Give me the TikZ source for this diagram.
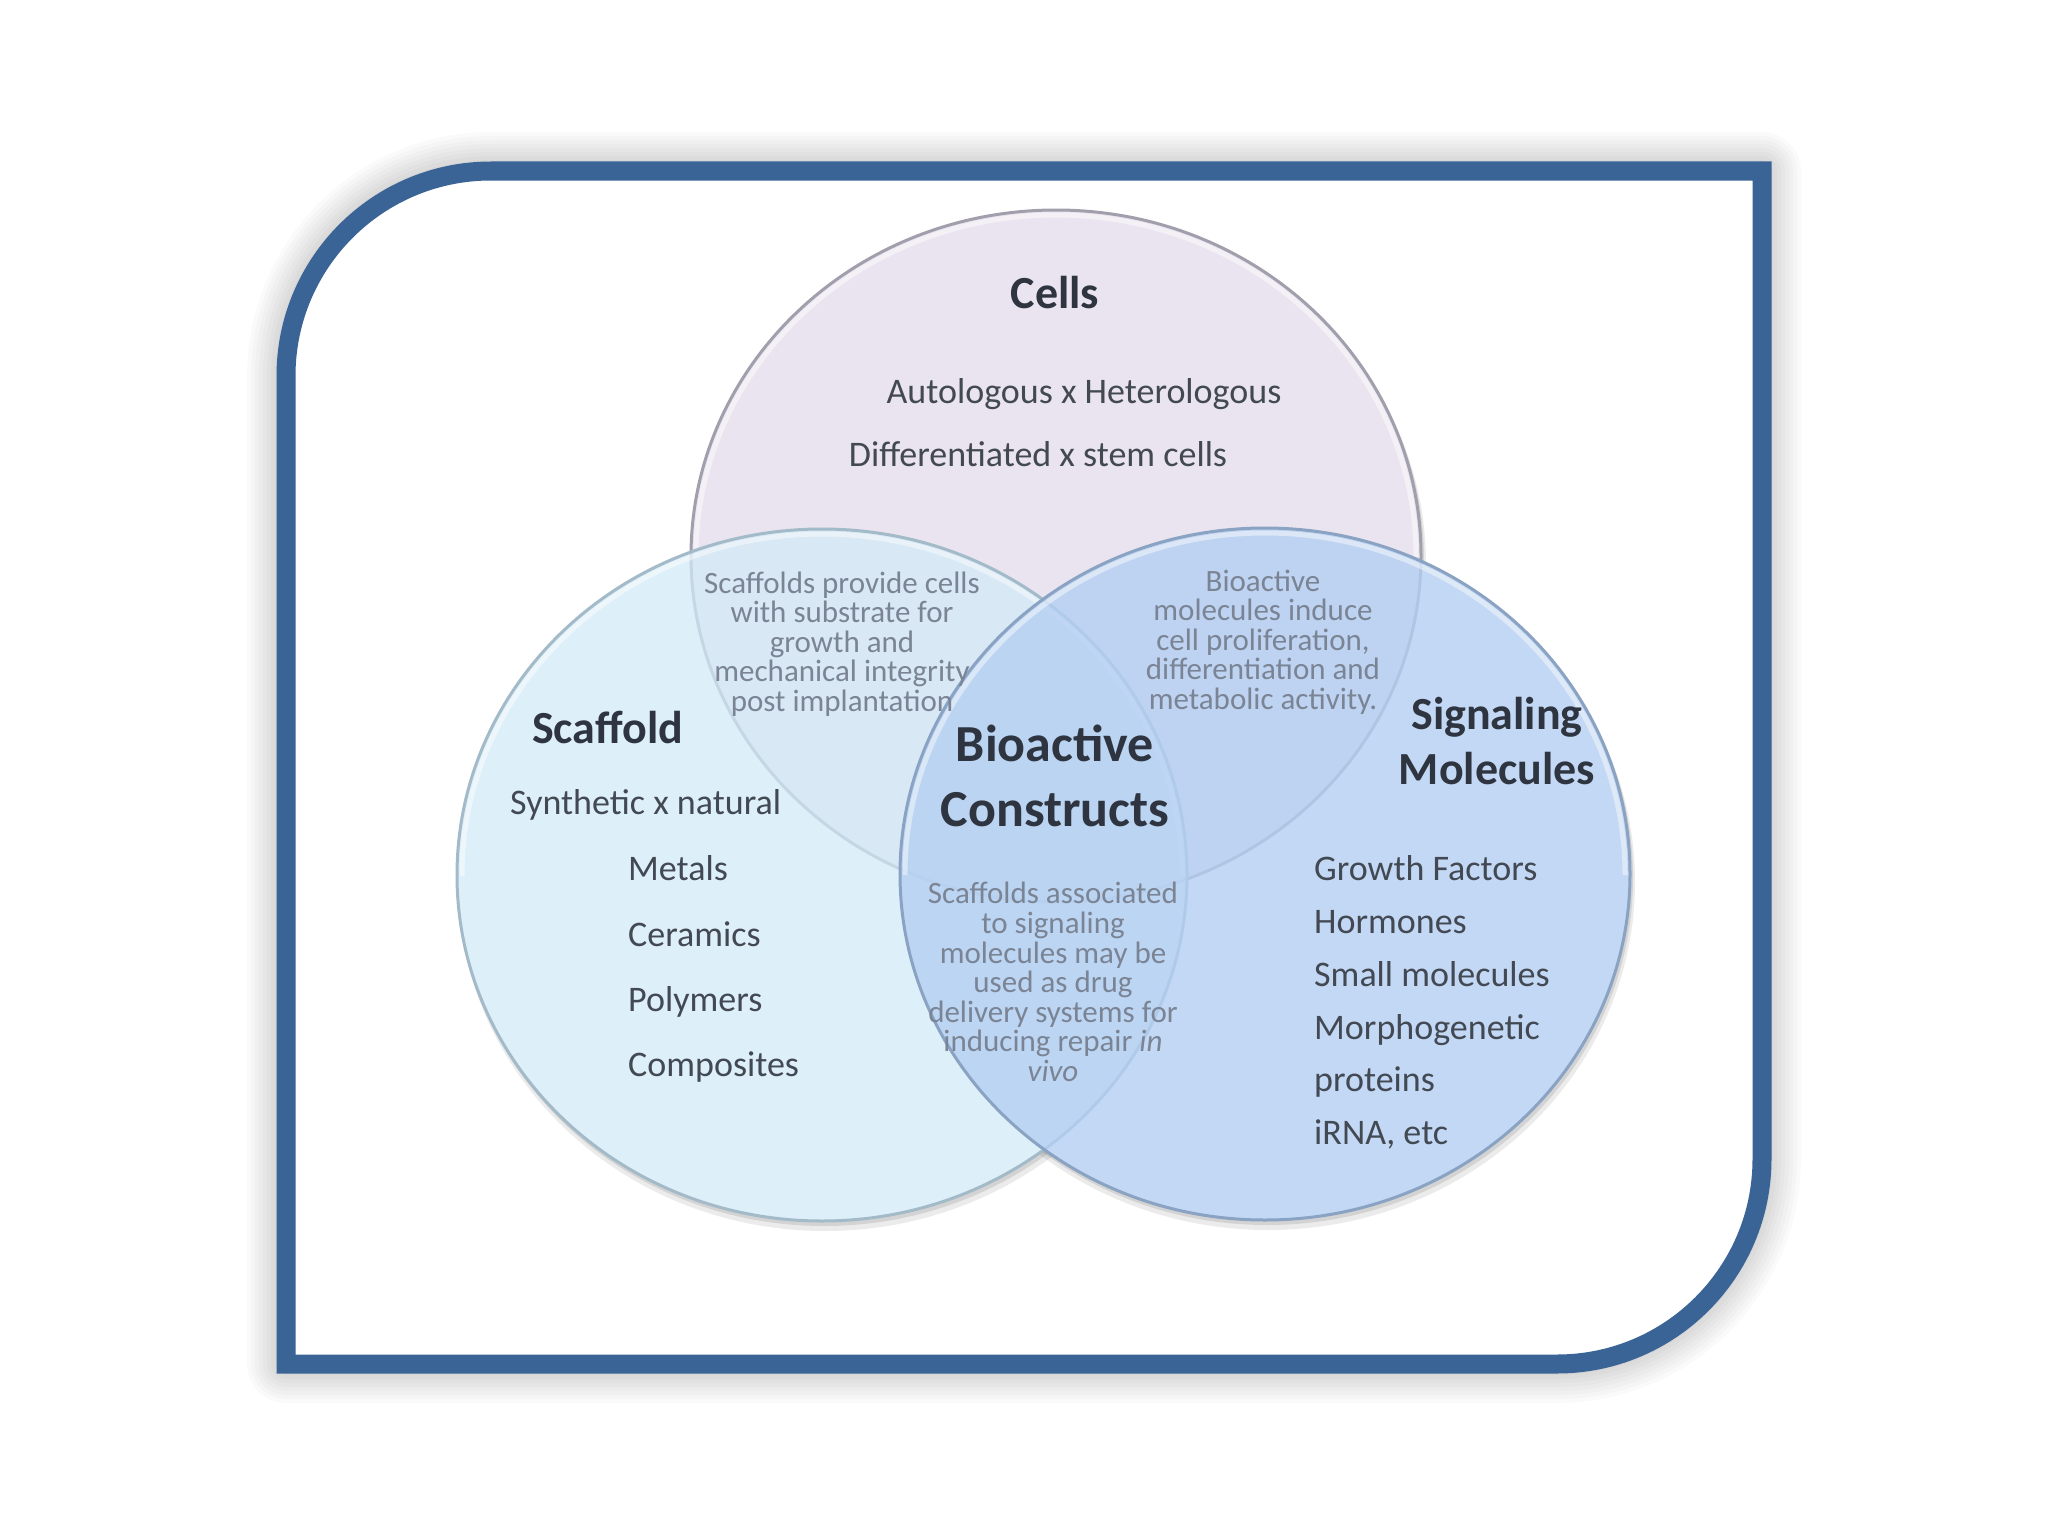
\documentclass[tikz,border=0pt]{standalone}
\usepackage{fontspec}
\setmainfont{Carlito}
\definecolor{frameblue}{HTML}{3A6496}
\definecolor{cellsfill}{HTML}{EAE4F0}
\definecolor{scafill}{HTML}{D2EAF7}
\definecolor{sigfill}{HTML}{B4CFF2}
\definecolor{cellsline}{HTML}{A29FAD}
\definecolor{scaline}{HTML}{A3BAC8}
\definecolor{sigline}{HTML}{8AA3C3}
\definecolor{titlecol}{HTML}{2E3540}
\definecolor{itemcol}{HTML}{434953}
\definecolor{smallcol}{HTML}{7A8494}
\begin{document}
\begin{tikzpicture}[x=1pt,y=-1pt,
  title/.style={font=\fontsize{46}{50}\selectfont\bfseries, text=titlecol, inner sep=0pt},
  bigtitle/.style={font=\fontsize{52}{65}\selectfont\bfseries, text=titlecol, inner sep=0pt, align=center},
  item/.style={font=\fontsize{36}{40}\selectfont, text=itemcol, inner sep=0pt},
  small/.style={font=\fontsize{31}{29.6}\selectfont, text=smallcol, align=center, inner sep=0pt},
  framepen/.style={draw=frameblue, line width=19pt},
  glow/.style={draw=white, line width=5pt, opacity=0.45},
]
\useasboundingbox (0,0) rectangle (2048,1536);
\fill[white] (0,0) rectangle (2048,1536);
% soft shadow around the frame, following its shape
\foreach \ww in {22,30,...,78} {
  \draw[black, opacity=0.02, line width=\ww pt, line join=round]
    (286,376) arc[start angle=180,end angle=270,radius=205] -- (1762,171) -- (1762,1159)
    arc[start angle=0,end angle=90,radius=205] -- (286,1364) -- cycle;
}
% frame interior
\fill[white] (286,376) arc[start angle=180,end angle=270,radius=205] -- (1762,171) -- (1762,1159)
  arc[start angle=0,end angle=90,radius=205] -- (286,1364) -- cycle;

% circle shadows
\foreach \cx/\cy in {1056/556, 822/875, 1265/874} {
  \fill[black, opacity=0.08] (\cx+3,\cy+8) ellipse [x radius=367, y radius=348];
  \fill[black, opacity=0.10] (\cx+2,\cy+4) ellipse [x radius=366, y radius=347];
}
\foreach \cx/\cy in {1056/556, 822/875, 1265/874} {
  \fill[white] (\cx,\cy) ellipse [x radius=365, y radius=346];
}
% circles
\filldraw[fill=cellsfill, draw=cellsline, line width=3pt] (1056,556) ellipse [x radius=365, y radius=346];
\begin{scope}
  \clip (656,150) rectangle (1456,556);
  \draw[glow] (1056,556) ellipse [x radius=360, y radius=341];
\end{scope}
\filldraw[fill=scafill, fill opacity=0.75, draw=scaline, line width=3pt] (822,875) ellipse [x radius=365, y radius=346];
\begin{scope}
  \clip (422,470) rectangle (1222,875);
  \draw[glow] (822,875) ellipse [x radius=360, y radius=341];
\end{scope}
\filldraw[fill=sigfill, fill opacity=0.8, draw=sigline, line width=3pt] (1265,874) ellipse [x radius=365, y radius=346];
\begin{scope}
  \clip (865,470) rectangle (1665,874);
  \draw[glow] (1265,874) ellipse [x radius=360, y radius=341];
\end{scope}

% frame
\draw[framepen] (286,376) arc[start angle=180,end angle=270,radius=205] -- (1762,171) -- (1762,1159)
  arc[start angle=0,end angle=90,radius=205] -- (286,1364) -- cycle;

% Cells
\node[title, anchor=base] (cells) at (1055,308) {Cells};
\node[item, anchor=base] (auto) at (1084,403) {Autologous x Heterologous};
\node[item, anchor=base] (diff) at (1038,466) {Differentiated x stem cells};

% Scaffold
\node[title, anchor=base west] (scaffold) at (532,743) {Scaffold};
\node[item, anchor=base west] (synth) at (510,814) {Synthetic x natural};
\node[item, anchor=base west] (metals) at (628,880) {Metals};
\node[item, anchor=base west] (ceramics) at (628,946) {Ceramics};
\node[item, anchor=base west] (polymers) at (628,1011) {Polymers};
\node[item, anchor=base west] (composites) at (628,1076) {Composites};

% Signaling molecules
\node[title, anchor=base] (signaling) at (1497,729) {Signaling};
\node[title, anchor=base] (molecules) at (1497,784) {Molecules};
\node[item, anchor=base west] (growth) at (1314,880) {Growth Factors};
\node[item, anchor=base west] (hormones) at (1314,933) {Hormones};
\node[item, anchor=base west] (smallmol) at (1314,986) {Small molecules};
\node[item, anchor=base west] (morpho) at (1314,1039) {Morphogenetic};
\node[item, anchor=base west] (proteins) at (1314,1091) {proteins};
\node[item, anchor=base west] (irna) at (1314,1144) {iRNA, etc};

% Intersections
\node[small] (scacells) at (842,644) {Scaffolds provide cells\\with substrate for\\growth and\\mechanical integrity\\post implantation};
\node[small] (sigcells) at (1263,642) {Bioactive\\molecules induce\\cell proliferation,\\differentiation and\\metabolic activity.};
\node[small] (scasig) at (1053,982) {Scaffolds associated\\to signaling\\molecules may be\\used as drug\\delivery systems for\\inducing repair \textit{in}\\\textit{vivo}};

% Centre
\node[bigtitle] (bioactive) at (1055,776) {Bioactive\\Constructs};
\end{tikzpicture}
\end{document}
